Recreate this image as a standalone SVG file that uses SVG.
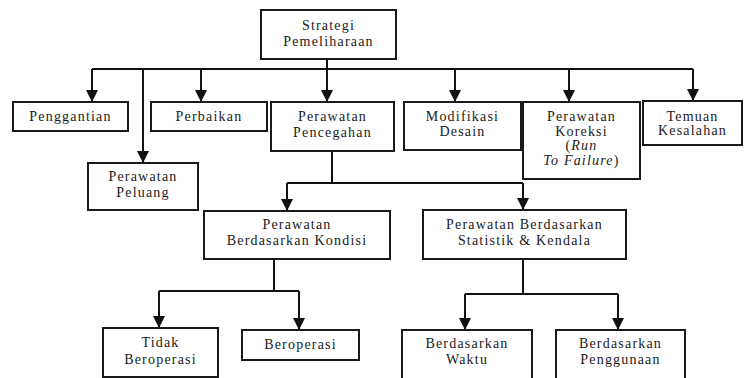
<svg xmlns="http://www.w3.org/2000/svg" width="745" height="378" viewBox="0 0 745 378">
<style>
.box{fill:#fff;stroke:#1a1a1a;stroke-width:2}
.t{font-family:"Liberation Serif","Times New Roman",serif;font-size:14px;letter-spacing:1.2px;fill:#1a1a1a;text-anchor:middle}
.c{fill:none;stroke:#111;stroke-width:2}
.a{marker-end:url(#arr)}
</style>
<defs>
<marker id="arr" markerUnits="userSpaceOnUse" markerWidth="12" markerHeight="12" viewBox="0 0 12 12" refX="12" refY="6" orient="auto">
<path d="M0,0 L12,6 L0,12 z" fill="#111"/>
</marker>
</defs>
<rect width="745" height="378" fill="#fff"/>
<g id="connectors">
<path class="c" d="M92,69 H693"/>
<path class="c a" d="M327,59 V102"/>
<path class="c a" d="M92,69 V102"/>
<path class="c a" d="M143,69 V163"/>
<path class="c a" d="M201,69 V102"/>
<path class="c a" d="M455,69 V102"/>
<path class="c a" d="M569,69 V102"/>
<path class="c a" d="M693,69 V101"/>
<path class="c" d="M332,151 V183 M287,183 H523"/>
<path class="c a" d="M287,183 V211"/>
<path class="c a" d="M523,183 V210"/>
<path class="c" d="M274,259 V291 M159,291 H299"/>
<path class="c a" d="M159,291 V328"/>
<path class="c a" d="M299,291 V330"/>
<path class="c" d="M523,259 V294 M465,294 H618"/>
<path class="c a" d="M465,294 V330"/>
<path class="c a" d="M618,294 V330"/>
</g>
<g id="strategi"><rect class="box" x="261" y="10" width="135" height="49"/><text class="t" x="328.5" y="30">Strategi</text><text class="t" x="328.5" y="46">Pemeliharaan</text></g>
<g id="penggantian"><rect class="box" x="13" y="102" width="115" height="29"/><text class="t" x="70.5" y="121">Penggantian</text></g>
<g id="peluang"><rect class="box" x="88" y="163" width="110" height="47"/><text class="t" x="143" y="181">Perawatan</text><text class="t" x="143" y="197">Peluang</text></g>
<g id="perbaikan"><rect class="box" x="151" y="102" width="116" height="29"/><text class="t" x="209" y="121">Perbaikan</text></g>
<g id="pencegahan"><rect class="box" x="271" y="102" width="123" height="49"/><text class="t" x="332.5" y="121">Perawatan</text><text class="t" x="332.5" y="137">Pencegahan</text></g>
<g id="modifikasi"><rect class="box" x="404" y="102" width="117" height="48"/><text class="t" x="462.5" y="121">Modifikasi</text><text class="t" x="462.5" y="136">Desain</text></g>
<g id="koreksi"><rect class="box" x="523" y="102" width="117" height="77"/><text class="t" x="581.5" y="121">Perawatan</text><text class="t" x="581.5" y="136">Koreksi</text><text class="t" x="581.5" y="150">(<tspan font-style="italic">Run</tspan></text><text class="t" x="581.5" y="165"><tspan font-style="italic">To Failure</tspan>)</text></g>
<g id="temuan"><rect class="box" x="643" y="101" width="99" height="44"/><text class="t" x="692.5" y="121">Temuan</text><text class="t" x="692.5" y="135">Kesalahan</text></g>
<g id="kondisi"><rect class="box" x="204" y="211" width="186" height="48"/><text class="t" x="297" y="229">Perawatan</text><text class="t" x="297" y="245">Berdasarkan Kondisi</text></g>
<g id="statistik"><rect class="box" x="423" y="210" width="203" height="49"/><text class="t" x="524.5" y="229">Perawatan Berdasarkan</text><text class="t" x="524.5" y="245">Statistik &amp; Kendala</text></g>
<g id="tidak"><rect class="box" x="103" y="328" width="115" height="49"/><text class="t" x="160.5" y="347">Tidak</text><text class="t" x="160.5" y="364">Beroperasi</text></g>
<g id="beroperasi"><rect class="box" x="242" y="330" width="117" height="30"/><text class="t" x="300.5" y="349">Beroperasi</text></g>
<g id="waktu"><rect class="box" x="402" y="330" width="130" height="55"/><text class="t" x="467" y="348">Berdasarkan</text><text class="t" x="467" y="364">Waktu</text></g>
<g id="penggunaan"><rect class="box" x="556" y="330" width="129" height="55"/><text class="t" x="620.5" y="348">Berdasarkan</text><text class="t" x="620.5" y="364">Penggunaan</text></g>
</svg>
